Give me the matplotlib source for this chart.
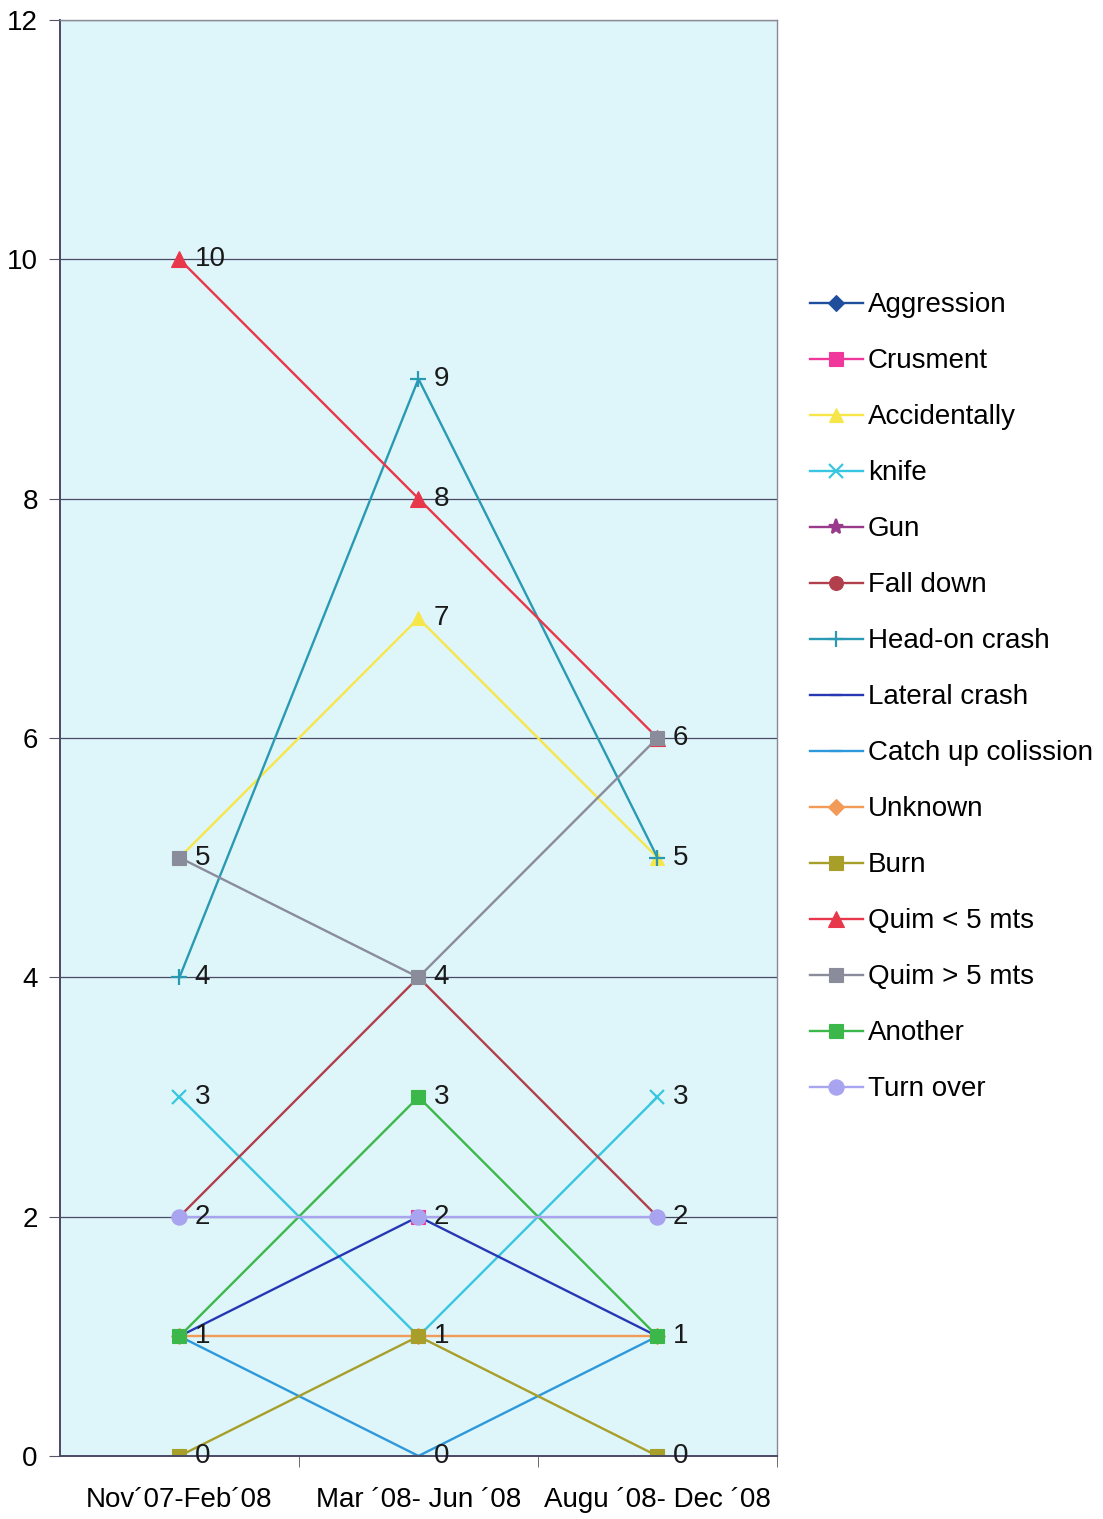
import numpy as np
import matplotlib
matplotlib.use('Agg')
import matplotlib.pyplot as plt

plt.rcParams['font.family'] = ['Liberation Sans', 'DejaVu Sans']

periodos = ['Nov\u00b407-Feb\u00b408', 'Mar \u00b408- Jun \u00b408', 'Augu \u00b408- Dec \u00b408']

nan = np.nan
aggression = [nan, nan, nan]
crusment = [nan, 2, nan]
accidentally = [5, 7, 5]
knife = [3, 1, 3]
gun = [nan, nan, nan]
fall_down = [2, 4, 2]
head_on = [4, 9, 5]
lateral = [1, 2, 1]
catch_up = [1, 0, 1]
unknown = [1, 1, 1]
burn = [0, 1, 0]
quim_menor = [10, 8, 6]
quim_maior = [5, 4, 6]
another = [1, 3, 1]
turn_over = [2, 2, 2]

# (nome, valores, cor, marcador, tamanho)
series = [
    ('Aggression', aggression, '#1F4E9C', 'D', 8),
    ('Crusment', crusment, '#F0389C', 's', 10),
    ('Accidentally', accidentally, '#F7E64A', '^', 10),
    ('knife', knife, '#38C6E0', 'x', 10),
    ('Gun', gun, '#993A8C', '*', 11),
    ('Fall down', fall_down, '#B2404C', 'o', 10),
    ('Head-on crash', head_on, '#2A9AB4', '+', 12),
    ('Lateral crash', lateral, '#2838B4', '_', 8),
    ('Catch up colission', catch_up, '#2E98DC', '_', 8),
    ('Unknown', unknown, '#F29A58', 'D', 8),
    ('Burn', burn, '#A89E2A', 's', 10),
    ('Quim < 5 mts', quim_menor, '#E8374A', '^', 11),
    ('Quim > 5 mts', quim_maior, '#8A8C9C', 's', 10),
    ('Another', another, '#3CB84A', 's', 10),
    ('Turn over', turn_over, '#A8A4F0', 'o', 11),
]

fig = plt.figure(figsize=(11.03, 15.19), dpi=100)
fig.patch.set_facecolor('white')
ax = fig.add_axes([0.0544, 0.0415, 0.650, 0.9454])
ax.set_facecolor('#DEF6F9')

x = np.arange(len(periodos))
for nome, vals, cor, mk, ms in series:
    ax.plot(x, vals, color=cor, marker=mk, markersize=ms, linewidth=1.7,
            markeredgewidth=1.6 if mk in ('x', '+', '*', '_') else 0.8,
            markeredgecolor=cor, label=nome)

# rótulos de dados, um por valor em cada período
for i in range(len(periodos)):
    valores = set()
    for _, vals, _, _, _ in series:
        if not np.isnan(vals[i]):
            valores.add(vals[i])
    for v in valores:
        ax.annotate(f'{int(v)}', (x[i], v), xytext=(11, 0), textcoords='offset points',
                    va='center', ha='left', fontsize=20, color='#1a1a1a')

ax.set_xlim(-0.5, 2.5)
ax.set_ylim(0, 12)
ax.set_yticks(range(0, 13, 2))
for y in range(2, 13, 2):
    ax.axhline(y, color='#4A4A66', linewidth=0.9, zorder=0)
ax.set_xticks(x)
ax.set_xticklabels(periodos, fontsize=20)
ax.set_xticks([0.5, 1.5, 2.5], minor=True)
ax.tick_params(axis='x', which='major', length=0, pad=22)
ax.tick_params(axis='x', which='minor', length=8, color='#555555')
ax.tick_params(axis='y', length=8, labelsize=20, pad=8, color='#555566')

for lado in ['left', 'bottom']:
    ax.spines[lado].set_color('#4A4A66')
    ax.spines[lado].set_linewidth(1.4)
for lado in ['top', 'right']:
    ax.spines[lado].set_color('#8A8A99')
    ax.spines[lado].set_linewidth(1.0)

fig.legend(loc='upper left', bbox_to_anchor=(0.7115, 0.824), frameon=False,
           fontsize=20, handlelength=1.9, handletextpad=0.2, labelspacing=1.08)

plt.savefig('out.png', dpi=100)
